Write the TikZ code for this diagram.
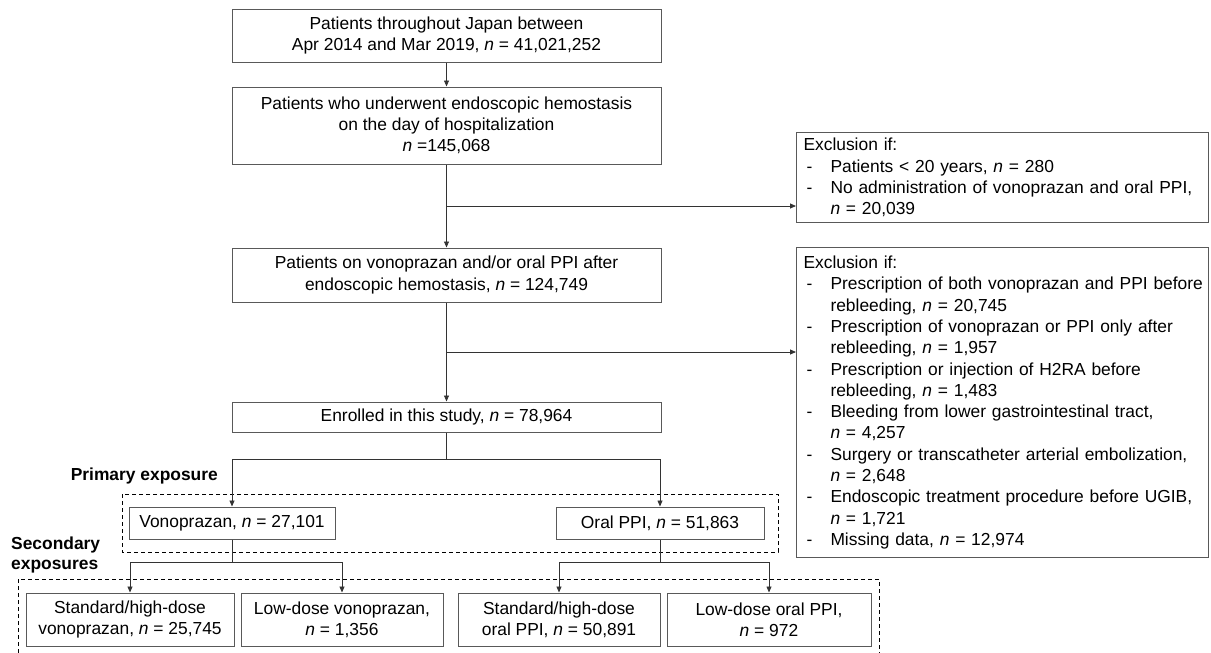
\documentclass[tikz,border=0pt]{standalone}
\usepackage{fontspec}
\setmainfont{Liberation Sans}
\usetikzlibrary{arrows.meta,calc}
\newcommand{\exl}[2]{\par\noindent\makebox[27pt][l]{\hspace{3pt}#1}\mbox{#2}}
\begin{document}
\begin{tikzpicture}[x=1pt,y=-1pt,
  font=\fontsize{17.4}{21.3}\selectfont,
  box/.style={draw=black!65, line width=1pt, align=center, inner sep=0pt},
  exbox/.style={draw=black!65, line width=1pt, anchor=north west, inner xsep=7pt, inner ysep=0pt, text width=398pt, align=left},
  arr/.style={-{Triangle[length=6pt,width=5pt]}, line width=0.8pt, black!80},
  ln/.style={line width=0.8pt, black!80},
  dbox/.style={line width=1pt, dash pattern=on 4pt off 3pt, black}]
\useasboundingbox (0,0) rectangle (1211,653);

\node[box, minimum width=429pt, minimum height=53pt] (b1) at (446.5,35.5)
  {Patients throughout Japan between\\Apr 2014 and Mar 2019, \textit{n} = 41,021,252};
\node[box, minimum width=429pt, minimum height=77pt] (b2) at (446.5,125.5)
  {Patients who underwent endoscopic hemostasis\\on the day of hospitalization\\\textit{n} =145,068};
\node[box, minimum width=429pt, minimum height=54pt] (b3) at (446.5,275)
  {Patients on vonoprazan and/or oral PPI after\\endoscopic hemostasis, \textit{n} = 124,749};
\node[box, minimum width=429pt, minimum height=30pt] (b4) at (446.5,417)
  {Enrolled in this study, \textit{n} = 78,964};

\node[exbox, minimum height=90pt] (ex1) at (796,132)
  {Exclusion if:
   \exl{-}{Patients < 20 years, \textit{n} = 280}
   \exl{-}{No administration of vonoprazan and oral PPI,}
   \exl{}{\textit{n} = 20,039}};
\node[exbox, minimum height=310pt] (ex2) at (796,247)
  {Exclusion if:
   \exl{-}{Prescription of both vonoprazan and PPI before}
   \exl{}{rebleeding, \textit{n} = 20,745}
   \exl{-}{Prescription of vonoprazan or PPI only after}
   \exl{}{rebleeding, \textit{n} = 1,957}
   \exl{-}{Prescription or injection of H2RA before}
   \exl{}{rebleeding, \textit{n} = 1,483}
   \exl{-}{Bleeding from lower gastrointestinal tract,}
   \exl{}{\textit{n} = 4,257}
   \exl{-}{Surgery or transcatheter arterial embolization,}
   \exl{}{\textit{n} = 2,648}
   \exl{-}{Endoscopic treatment procedure before UGIB,}
   \exl{}{\textit{n} = 1,721}
   \exl{-}{Missing data, \textit{n} = 12,974}};

\node[box, minimum width=206pt, minimum height=32pt] (v) at (232,523)
  {Vonoprazan, \textit{n} = 27,101};
\node[box, minimum width=208pt, minimum height=32pt] (o) at (660,523)
  {Oral PPI, \textit{n} = 51,863};

\node[box, minimum width=208pt, minimum height=53pt] (s1) at (130,619.5)
  {Standard/high-dose\\vonoprazan, \textit{n} = 25,745};
\node[box, minimum width=202pt, minimum height=53pt] (s2) at (342,619.5)
  {Low-dose vonoprazan,\\\textit{n} = 1,356};
\node[box, minimum width=202pt, minimum height=53pt] (s3) at (559,619.5)
  {Standard/high-dose\\oral PPI, \textit{n} = 50,891};
\node[box, minimum width=204pt, minimum height=53pt] (s4) at (769,619.5)
  {Low-dose oral PPI,\\\textit{n} = 972};

\node[anchor=east, inner sep=0pt, font=\fontsize{17.4}{21.3}\selectfont\bfseries] (pl) at (218,476) {Primary exposure};
\node[anchor=west, align=left, inner sep=0pt, font=\fontsize{17.4}{20}\selectfont\bfseries] (sl) at (11,555) {Secondary\\exposures};

\draw[dbox] (122,494) rectangle (778,552);
\draw[dbox] (18,653) -- (18,579) -- (879,579) -- (879,653);

\draw[arr] (b1) -- (b2);
\draw[arr] (b2) -- (b3);
\coordinate (j1) at ($(b2.south)!0.5!(b3.north)$);
\draw[arr] (j1) -- (j1 -| ex1.west);
\draw[arr] (b3) -- (b4);
\coordinate (j2) at ($(b3.south)!0.5!(b4.north)$);
\draw[arr] (j2) -- (j2 -| ex2.west);

\coordinate (k1) at ($(b4.south)+(0,27)$);
\draw[ln] (b4.south) -- (k1);
\draw[arr] (k1) -| (v.north);
\draw[arr] (k1) -| (o.north);

\coordinate (k2) at ($(v.south)+(0,23)$);
\draw[ln] (v.south) -- (k2);
\draw[arr] (k2) -| (s1.north);
\draw[arr] (k2) -| (s2.north);
\coordinate (k3) at ($(o.south)+(0,23)$);
\draw[ln] (o.south) -- (k3);
\draw[arr] (k3) -| (s3.north);
\draw[arr] (k3) -| (s4.north);
\end{tikzpicture}
\end{document}
